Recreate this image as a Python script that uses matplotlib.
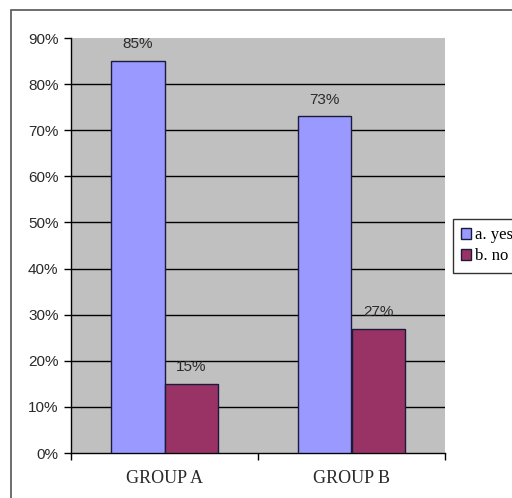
import numpy as np
import matplotlib.pyplot as plt
from matplotlib.patches import Rectangle
from matplotlib.ticker import FixedLocator, PercentFormatter

groups = ['GROUP A', 'GROUP B']
yes_vals = [85, 73]
no_vals = [15, 27]
series_names = ['a. yes', 'b. no']

fig = plt.figure(figsize=(5.12, 4.98), dpi=100)
fig.patch.set_facecolor('white')

# outer chart frame (right and bottom run off the image)
fig.patches.append(Rectangle((11 / 512, -0.05), 1.2, 0.98 + 0.05, transform=fig.transFigure,
                             fill=False, edgecolor='#555555', lw=1.2, clip_on=False))

ax = fig.add_axes([71 / 512, 45 / 498, 374 / 512, 415 / 498])
ax.set_facecolor('#C0C0C0')

x = np.arange(len(groups))
w = 1 / 3.5
b1 = ax.bar(x - w / 2, yes_vals, w, color='#9999FF', edgecolor='#1a1a3a', lw=1,
            label=series_names[0], zorder=3)
b2 = ax.bar(x + w / 2, no_vals, w, color='#993366', edgecolor='#1a1a3a', lw=1,
            label=series_names[1], zorder=3)

for bars in (b1, b2):
    for r in bars:
        ax.annotate('%d%%' % r.get_height(), (r.get_x() + r.get_width() / 2, r.get_height()),
                    xytext=(0, 7), textcoords='offset points', ha='center', va='bottom',
                    fontsize=11, family='Liberation Sans', color='#2a2a2a')

ax.set_xlim(-0.5, 1.5)
ax.set_ylim(0, 90)
ax.set_yticks(np.arange(0, 91, 10))
ax.yaxis.set_major_formatter(PercentFormatter(decimals=0))
for v in range(10, 90, 10):
    ax.axhline(v, color='black', lw=1, zorder=1)

ax.set_xticks(x)
ax.set_xticklabels(groups, family='Liberation Serif', fontsize=13, color='#2a2a2a')
ax.xaxis.set_minor_locator(FixedLocator([-0.5, 0.5, 1.5]))
ax.tick_params(axis='x', which='major', length=0, pad=12)
ax.tick_params(axis='x', which='minor', length=5, direction='out', width=1)
ax.tick_params(axis='y', length=5, direction='out', width=1, pad=4)
for lbl in ax.get_yticklabels():
    lbl.set_family('Liberation Sans')
    lbl.set_fontsize(11)
    lbl.set_color('#2a2a2a')

for s in ['top', 'right']:
    ax.spines[s].set_visible(False)
for s in ['left', 'bottom']:
    ax.spines[s].set_color('black')
    ax.spines[s].set_linewidth(1)

leg = fig.legend(loc='upper left', bbox_to_anchor=(453 / 512, (498 - 219) / 498),
                 prop={'family': 'Liberation Serif', 'size': 12}, fancybox=False,
                 frameon=True, edgecolor='black', handlelength=0.6, handleheight=0.6,
                 handletextpad=0.2, borderpad=0.5, labelspacing=0.3, borderaxespad=0)
leg.get_frame().set_linewidth(1)

fig.savefig('out.png', dpi=100)
